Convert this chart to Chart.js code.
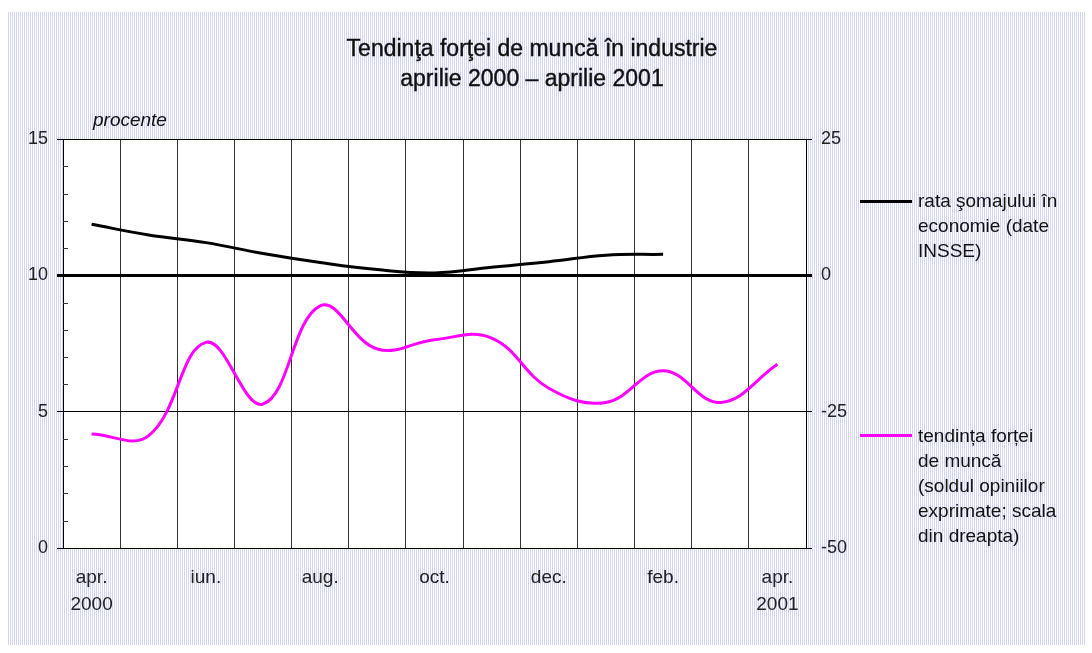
<!DOCTYPE html>
<html>
<head>
<meta charset="utf-8">
<script src="https://cdn.jsdelivr.net/npm/chart.js@4/dist/chart.umd.min.js"></script>
<style>
  body { margin: 0; width: 1092px; height: 653px; background: #fff; position: relative; overflow: hidden;
         font-family: "Liberation Sans", Arial, sans-serif; color: #111; }
  .bg { position: absolute; left: 8px; top: 12px; width: 1077px; height: 633px; background-color: #fff;
        background-image: repeating-linear-gradient(90deg, #d4d4f4 0 1px, #fff 1px 2px); }
  canvas { position: absolute; left: 0; top: 0; }
  .title { position: absolute; left: 0; top: 33px; width: 1064px; text-align: center; font-size: 23px; line-height: 30px;
           -webkit-text-stroke: 0.4px #111; }
  .unit { position: absolute; left: 93px; top: 109px; font-size: 19px; font-style: italic; line-height: 22px; }
  .key { position: absolute; left: 860px; width: 52px; height: 0; border-top: 3px solid #000; }
  .keytext { position: absolute; left: 918px; font-size: 19px; line-height: 25px; }
</style>
</head>
<body>
<div class="bg"></div>
<canvas id="chart" width="1092" height="653"></canvas>
<div class="title">Tendinţa forţei de muncă în industrie<br>aprilie 2000 – aprilie 2001</div>
<div class="unit">procente</div>
<div class="key" style="top:200px"></div>
<div class="keytext" style="top:188px">rata şomajului în<br>economie (date<br>INSSE)</div>
<div class="key" style="top:434px; border-color:#ff00ff"></div>
<div class="keytext" style="top:423px">tendința forței<br>de muncă<br>(soldul opiniilor<br>exprimate; scala<br>din dreapta)</div>
<script>
// months apr 2000 .. apr 2001
const months = ['apr', 'mai', 'iun', 'iul', 'aug', 'sep', 'oct', 'nov', 'dec', 'ian', 'feb', 'mar', 'apr'];
const tickLabels = [['apr.', '2000'], '', 'iun.', '', 'aug.', '', 'oct.', '', 'dec.', '', 'feb.', '', ['apr.', '2001']];

// rata somajului (left axis, %), data up to feb 2001
const somaj = [11.87, 11.48, 11.2, 10.8, 10.47, 10.21, 10.09, 10.3, 10.5, 10.74, 10.77];
// tendinta fortei de munca (right axis, sold)
const tendinta = [-29.1, -29.4, -12.3, -23.6, -5.6, -13.5, -11.8, -11.5, -20.7, -23.3, -17.5, -23.3, -16.3];

const leftTicks = [0, 5, 10, 15];
const rightTicks = [-50, -25, 0, 25];

const toPoints = arr => arr.map((v, i) => ({ x: i, y: v }));

const gridVals = [];
for (let i = 0; i <= months.length; i++) gridVals.push(i - 0.5);

const labelVals = [];
tickLabels.forEach((l, i) => { if (l !== '') labelVals.push(i); });

const plotBg = {
  id: 'plotBg',
  beforeDraw(chart) {
    const a = chart.chartArea, ctx = chart.ctx;
    ctx.save();
    ctx.fillStyle = '#fff';
    ctx.fillRect(a.left, a.top, a.right - a.left, a.bottom - a.top);
    ctx.restore();
  },
  afterDraw(chart) {
    // small inner ticks on the left axis
    const y = chart.scales.y, ctx = chart.ctx, left = chart.chartArea.left;
    ctx.save();
    ctx.strokeStyle = '#333';
    ctx.lineWidth = 1;
    for (let v = 1; v < 15; v++) {
      if (v % 5 === 0) continue;
      const py = Math.round(y.getPixelForValue(v)) + 0.5;
      ctx.beginPath();
      ctx.moveTo(left, py);
      ctx.lineTo(left + 5, py);
      ctx.stroke();
    }
    ctx.restore();
  }
};

const tickFont = { family: '"Liberation Sans", Arial, sans-serif', size: 18 };

new Chart(document.getElementById('chart'), {
  type: 'line',
  data: {
    datasets: [{
      label: 'rata şomajului în economie (date INSSE)',
      data: toPoints(somaj),
      borderColor: '#000',
      borderWidth: 3,
      pointRadius: 0,
      tension: 0.4,
      yAxisID: 'y'
    }, {
      label: 'tendința forței de muncă',
      data: toPoints(tendinta),
      borderColor: '#ff00ff',
      borderWidth: 3,
      pointRadius: 0,
      tension: 0.4,
      yAxisID: 'y2'
    }]
  },
  options: {
    responsive: false,
    devicePixelRatio: 1,
    animation: false,
    layout: { padding: { top: 139, left: 0, right: 0, bottom: 0 } },
    plugins: { legend: { display: false }, tooltip: { enabled: false }, title: { display: false } },
    scales: {
      x: {
        type: 'linear', position: 'bottom', min: -0.5, max: 12.5,
        afterBuildTicks: s => { s.ticks = gridVals.map(v => ({ value: v })); },
        afterFit: s => { s.height = 0; },
        ticks: { display: false },
        grid: { color: '#333', lineWidth: 1, drawTicks: false },
        border: { display: true, color: '#000', width: 1 }
      },
      x2: {
        type: 'linear', position: 'bottom', min: -0.5, max: 12.5,
        afterBuildTicks: s => { s.ticks = labelVals.map(v => ({ value: v })); },
        afterFit: s => { s.height = 105; },
        ticks: {
          padding: 16, color: '#222', maxRotation: 0, autoSkip: false,
          font: { family: tickFont.family, size: 19, lineHeight: 1.42 },
          callback: v => tickLabels[v]
        },
        grid: { display: false, drawTicks: false },
        border: { display: false }
      },
      y: {
        position: 'left', min: 0, max: 15,
        afterBuildTicks: s => { s.ticks = leftTicks.map(v => ({ value: v })); },
        afterFit: s => { s.width = 63; },
        ticks: { padding: 9, color: '#222', font: tickFont },
        grid: {
          color: '#000', tickLength: 6,
          lineWidth: c => (c.tick && c.tick.value === 10 ? 3 : 1)
        },
        border: { display: true, color: '#000', width: 1 }
      },
      y2: {
        position: 'right', min: -50, max: 25,
        afterBuildTicks: s => { s.ticks = rightTicks.map(v => ({ value: v })); },
        afterFit: s => { s.width = 286; },
        ticks: { padding: 9, color: '#222', font: tickFont },
        grid: {
          drawOnChartArea: false, color: '#000', tickLength: 6,
          lineWidth: c => (c.tick && c.tick.value === 0 ? 3 : 1)
        },
        border: { display: true, color: '#000', width: 1 }
      }
    }
  },
  plugins: [plotBg]
});
</script>
</body>
</html>
